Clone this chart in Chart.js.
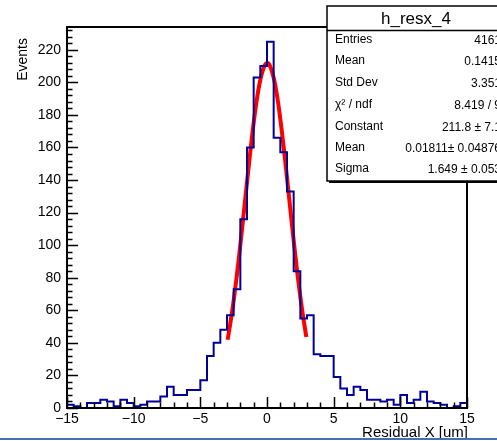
<!DOCTYPE html>
<html>
<head>
<meta charset="utf-8">
<script src="https://cdn.jsdelivr.net/npm/chart.js@4.4.1/dist/chart.umd.min.js"></script>
<style>
  html, body { margin: 0; padding: 0; background: #fff; }
  canvas { display: block; }
</style>
</head>
<body>
<canvas id="c" width="497" height="441"></canvas>
<script>
// histogram: 60 bins of 0.5 um from -15 to 15
const xMin = -15;
const binWidth = 0.5;
const counts = [
  2, 1, 0, 3, 3, 5, 4, 1, 5, 3,
  1, 2, 4, 4, 7, 13, 8, 8, 11, 11,
  17, 32, 40, 48, 57, 73, 116, 160, 203, 210,
  225, 166, 157, 133, 84, 55, 57, 33, 32, 32,
  19, 12, 8, 13, 11, 5, 5, 4, 5, 2,
  8, 3, 5, 10, 4, 3, 2, 0, 1, 3
];

// gaussian fit curve
const fitX = [-2.95, -2.6, -2.3, -2.0, -1.7, -1.4, -1.1, -0.8, -0.5, -0.2, 0.0,
              0.2, 0.5, 0.8, 1.1, 1.4, 1.7, 2.0, 2.3, 2.6, 2.95];
const fitY = [41.9, 60.1, 78.9, 100.2, 123.1, 146.3, 168.3, 187.3, 201.6, 210.0, 211.8,
              210.5, 202.9, 189.3, 170.8, 149.1, 125.9, 102.9, 81.3, 62.2, 43.6];

const xTicks = [-15, -10, -5, 0, 5, 10, 15];
const yTicks = [0, 20, 40, 60, 80, 100, 120, 140, 160, 180, 200, 220];
const yMax = 234;

const statsTitle = 'h_resx_4';
const statsLabels = ['Entries', 'Mean', 'Std Dev', 'χ² / ndf', 'Constant', 'Mean', 'Sigma'];
const statsValues = ['4161', '0.1415', '3.351', '8.419 / 9', '211.8 ± 7.1', '0.01811± 0.04876', '1.649 ± 0.053'];

const FONT = '"Liberation Sans", Arial, Helvetica, sans-serif';

const histPoints = counts.map((c, i) => ({ x: xMin + i * binWidth, y: c }));
histPoints.push({ x: xMin + counts.length * binWidth, y: counts[counts.length - 1] });

const fitPoints = fitX.map((x, i) => ({ x: x, y: fitY[i] }));

// ROOT style frame, inner ticks, titles and stats box
const rootDecor = {
  id: 'rootDecor',
  afterDraw(chart) {
    const ctx = chart.ctx;
    const a = chart.chartArea;
    const xs = chart.scales.x, ys = chart.scales.y;
    ctx.save();
    ctx.strokeStyle = '#000';
    ctx.lineWidth = 1.5;
    ctx.beginPath();
    for (let v = 0; v <= yMax; v += 4) {
      const py = Math.round(ys.getPixelForValue(v)) + 0.5;
      const len = v % 20 === 0 ? 11 : 5.5;
      ctx.moveTo(a.left, py);
      ctx.lineTo(a.left + len, py);
    }
    for (let v = -15; v <= 15; v++) {
      const px = Math.round(xs.getPixelForValue(v)) + 0.5;
      const len = v % 5 === 0 ? 11 : 5.5;
      ctx.moveTo(px, a.bottom);
      ctx.lineTo(px, a.bottom - len);
    }
    ctx.stroke();

    ctx.lineWidth = 2;
    ctx.strokeRect(a.left, a.top, a.right - a.left, a.bottom - a.top);

    // axis titles
    ctx.fillStyle = '#000';
    ctx.font = '15px ' + FONT;
    ctx.textAlign = 'right';
    ctx.textBaseline = 'middle';
    ctx.fillText('Residual X [um]', a.right + 1, 433);
    ctx.font = '14px ' + FONT;
    ctx.save();
    ctx.translate(23, 38);
    ctx.rotate(-Math.PI / 2);
    ctx.fillText('Events', 0, 0);
    ctx.restore();

    // stats box
    const bx = 327, by = 6, bw = 190, bh = 175;
    ctx.fillStyle = '#000';
    ctx.fillRect(bx + 2, by + 2, bw, bh);
    ctx.fillStyle = '#fff';
    ctx.fillRect(bx, by, bw, bh);
    ctx.lineWidth = 1.5;
    ctx.strokeRect(bx, by, bw, bh);
    ctx.beginPath();
    ctx.moveTo(bx, 30.5);
    ctx.lineTo(bx + bw, 30.5);
    ctx.stroke();

    ctx.fillStyle = '#000';
    ctx.font = '17px ' + FONT;
    ctx.textAlign = 'center';
    ctx.fillText(statsTitle, 416, 19);

    const rowY = [40, 61, 83, 105, 127, 148, 169];
    ctx.font = '12px ' + FONT;
    statsLabels.forEach((lab, i) => {
      ctx.textAlign = 'left';
      ctx.fillText(lab, 335, rowY[i]);
      ctx.textAlign = 'right';
      ctx.fillText(statsValues[i], 501, rowY[i] + 1);
    });

    // window edge line at the bottom of the screenshot
    ctx.fillStyle = '#4371b4';
    ctx.fillRect(0, 438, 497, 2);
    ctx.restore();
  }
};

new Chart(document.getElementById('c'), {
  data: {
    datasets: [
      {
        type: 'line',
        data: histPoints,
        stepped: true,
        borderColor: '#000099',
        borderWidth: 2,
        pointRadius: 0,
        fill: false
      },
      {
        type: 'line',
        data: fitPoints,
        borderColor: '#ff0000',
        borderWidth: 4,
        pointRadius: 0,
        tension: 0.4,
        fill: false
      }
    ]
  },
  options: {
    responsive: false,
    animation: false,
    layout: { padding: { top: 27, right: 30, left: 0, bottom: 0 } },
    plugins: { legend: { display: false }, tooltip: { enabled: false } },
    scales: {
      x: {
        type: 'linear',
        min: -15,
        max: 15,
        afterBuildTicks: s => { s.ticks = xTicks.map(v => ({ value: v })); },
        afterFit: s => { s.height = 33; },
        grid: { display: false, drawTicks: false },
        border: { display: false },
        ticks: {
          padding: 3,
          color: '#000',
          maxRotation: 0,
          font: { family: FONT, size: 14 },
          callback: v => String(v).replace('-', '\u2212')
        }
      },
      y: {
        type: 'linear',
        min: 0,
        max: yMax,
        afterBuildTicks: s => { s.ticks = yTicks.map(v => ({ value: v })); },
        afterFit: s => { s.width = 67; },
        grid: { display: false, drawTicks: false },
        border: { display: false },
        ticks: {
          padding: 6,
          color: '#000',
          font: { family: FONT, size: 14 }
        }
      }
    }
  },
  plugins: [rootDecor]
});
</script>
</body>
</html>
